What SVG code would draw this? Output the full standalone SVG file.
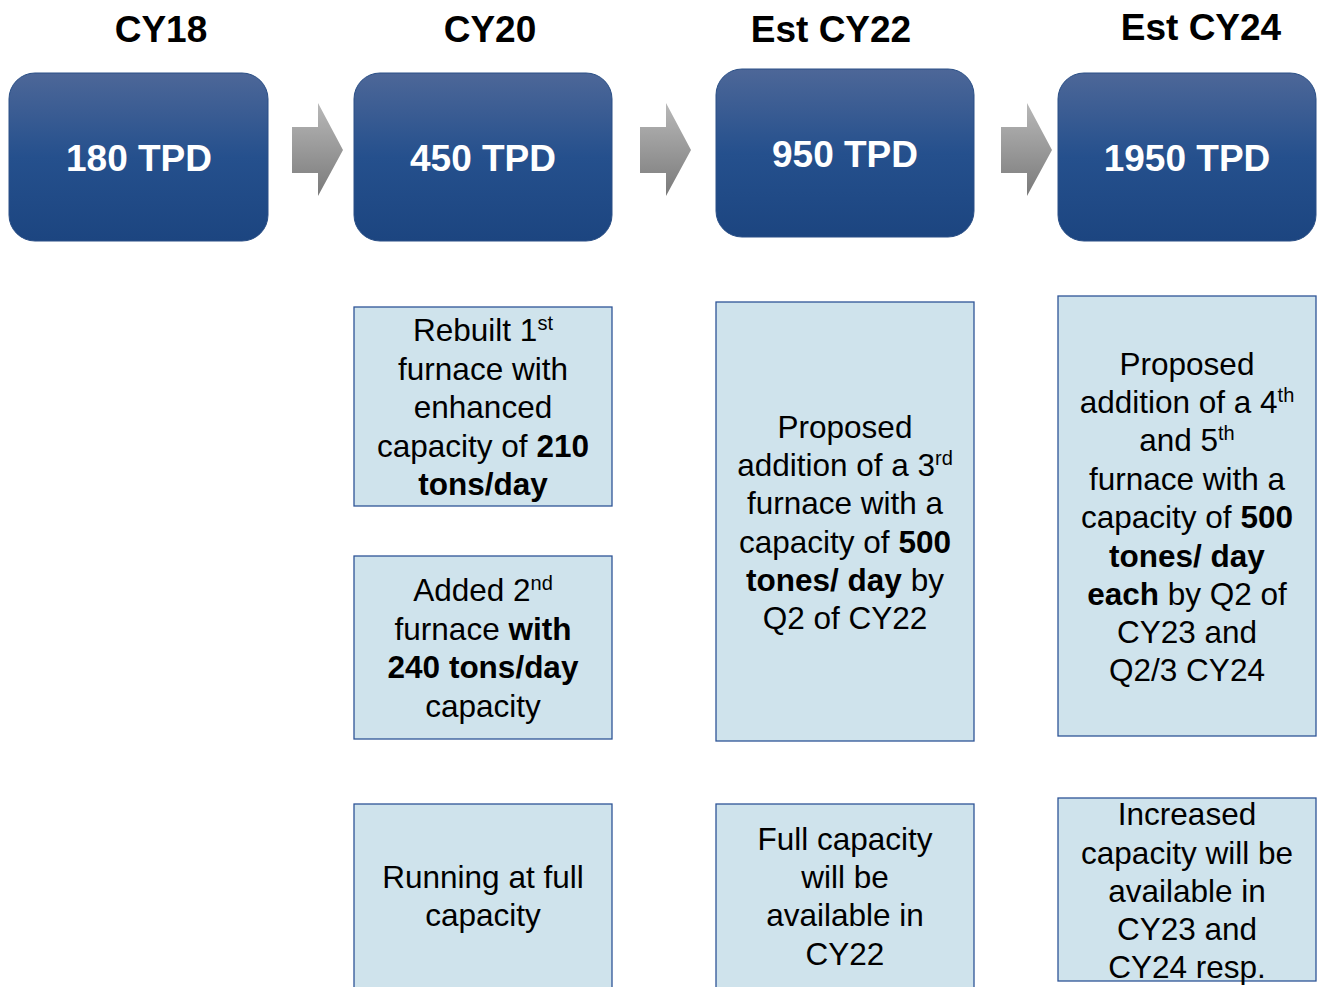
<svg xmlns="http://www.w3.org/2000/svg" width="1319" height="987" viewBox="0 0 1319 987">
<style>
.hdr{font-family:"Liberation Sans",Arial,sans-serif;font-weight:bold;font-size:37px;fill:#000;text-anchor:middle}
.tpd{font-family:"Liberation Sans",Arial,sans-serif;font-weight:bold;font-size:37px;fill:#fff;text-anchor:middle}
.bx{fill:url(#blue);stroke:#2a4f86;stroke-width:1}
.lb{fill:#cfe3ec;stroke:#2f5597;stroke-width:1.3}
.t{font-family:"Liberation Sans",Arial,sans-serif;font-size:31.5px;fill:#000;text-anchor:middle}
.b{font-weight:bold}
.sup{font-size:20px}
.arr{fill:url(#grey)}
</style>
<defs>
<linearGradient id="blue" x1="0" y1="0" x2="0" y2="1">
<stop offset="0" stop-color="#4d6798"/>
<stop offset="0.5" stop-color="#25508d"/>
<stop offset="1" stop-color="#1c4580"/>
</linearGradient>
<linearGradient id="grey" x1="0" y1="0" x2="0" y2="1">
<stop offset="0" stop-color="#b8b8b8"/>
<stop offset="1" stop-color="#7a7a7a"/>
</linearGradient>
</defs>
<g id="headers">
<text class="hdr" x="161" y="42">CY18</text>
<text class="hdr" x="490" y="42">CY20</text>
<text class="hdr" x="831" y="42">Est CY22</text>
<text class="hdr" x="1201" y="40">Est CY24</text>
</g>
<g id="connectors">
<path class="arr" d="M292,127 H318 V103 L343,150 L318,196 V173 H292 Z"/>
<path class="arr" d="M640,127 H666 V103 L691,150 L666,196 V173 H640 Z"/>
<path class="arr" d="M1001,127 H1027 V103 L1052,150 L1027,196 V173 H1001 Z"/>
</g>
<g id="n-cy18">
<rect class="bx" x="9" y="73" width="259" height="168" rx="26"/>
<text class="tpd" x="139" y="171">180 TPD</text>
</g>
<g id="n-cy20">
<rect class="bx" x="354" y="73" width="258" height="168" rx="26"/>
<text class="tpd" x="483" y="171">450 TPD</text>
</g>
<g id="n-cy22">
<rect class="bx" x="716" y="69" width="258" height="168" rx="26"/>
<text class="tpd" x="845" y="167">950 TPD</text>
</g>
<g id="n-cy24">
<rect class="bx" x="1058" y="73" width="258" height="168" rx="26"/>
<text class="tpd" x="1187" y="171">1950 TPD</text>
</g>
<g id="n-cy20-a">
<rect class="lb" x="354" y="307" width="258" height="199"/>
<text class="t" x="483" y="341">Rebuilt 1<tspan class="sup" dy="-11">st</tspan></text>
<text class="t" x="483" y="380">furnace with</text>
<text class="t" x="483" y="418">enhanced</text>
<text class="t" x="483" y="457">capacity of <tspan class="b">210</tspan></text>
<text class="t b" x="483" y="495">tons/day</text>
</g>
<g id="n-cy20-b">
<rect class="lb" x="354" y="556" width="258" height="183"/>
<text class="t" x="483" y="601">Added 2<tspan class="sup" dy="-11">nd</tspan></text>
<text class="t" x="483" y="640">furnace <tspan class="b">with</tspan></text>
<text class="t b" x="483" y="678">240 tons/day</text>
<text class="t" x="483" y="717">capacity</text>
</g>
<g id="n-cy20-c">
<rect class="lb" x="354" y="804" width="258" height="190"/>
<text class="t" x="483" y="888">Running at full</text>
<text class="t" x="483" y="926">capacity</text>
</g>
<g id="n-cy22-a">
<rect class="lb" x="716" y="302" width="258" height="439"/>
<text class="t" x="845" y="438">Proposed</text>
<text class="t" x="845" y="476">addition of a 3<tspan class="sup" dy="-11">rd</tspan></text>
<text class="t" x="845" y="514">furnace with a</text>
<text class="t" x="845" y="553">capacity of <tspan class="b">500</tspan></text>
<text class="t" x="845" y="591"><tspan class="b">tones/ day</tspan> by</text>
<text class="t" x="845" y="629">Q2 of CY22</text>
</g>
<g id="n-cy22-c">
<rect class="lb" x="716" y="804" width="258" height="190"/>
<text class="t" x="845" y="850">Full capacity</text>
<text class="t" x="845" y="888">will be</text>
<text class="t" x="845" y="926">available in</text>
<text class="t" x="845" y="965">CY22</text>
</g>
<g id="n-cy24-a">
<rect class="lb" x="1058" y="296" width="258" height="440"/>
<text class="t" x="1187" y="375">Proposed</text>
<text class="t" x="1187" y="413">addition of a 4<tspan class="sup" dy="-11">th</tspan></text>
<text class="t" x="1187" y="451">and 5<tspan class="sup" dy="-11">th</tspan></text>
<text class="t" x="1187" y="490">furnace with a</text>
<text class="t" x="1187" y="528">capacity of <tspan class="b">500</tspan></text>
<text class="t b" x="1187" y="567">tones/ day</text>
<text class="t" x="1187" y="605"><tspan class="b">each</tspan> by Q2 of</text>
<text class="t" x="1187" y="643">CY23 and</text>
<text class="t" x="1187" y="681">Q2/3 CY24</text>
</g>
<g id="n-cy24-c">
<rect class="lb" x="1058" y="798" width="258" height="183"/>
<text class="t" x="1187" y="825">Increased</text>
<text class="t" x="1187" y="864">capacity will be</text>
<text class="t" x="1187" y="902">available in</text>
<text class="t" x="1187" y="940">CY23 and</text>
<text class="t" x="1187" y="978">CY24 resp.</text>
</g>
</svg>
